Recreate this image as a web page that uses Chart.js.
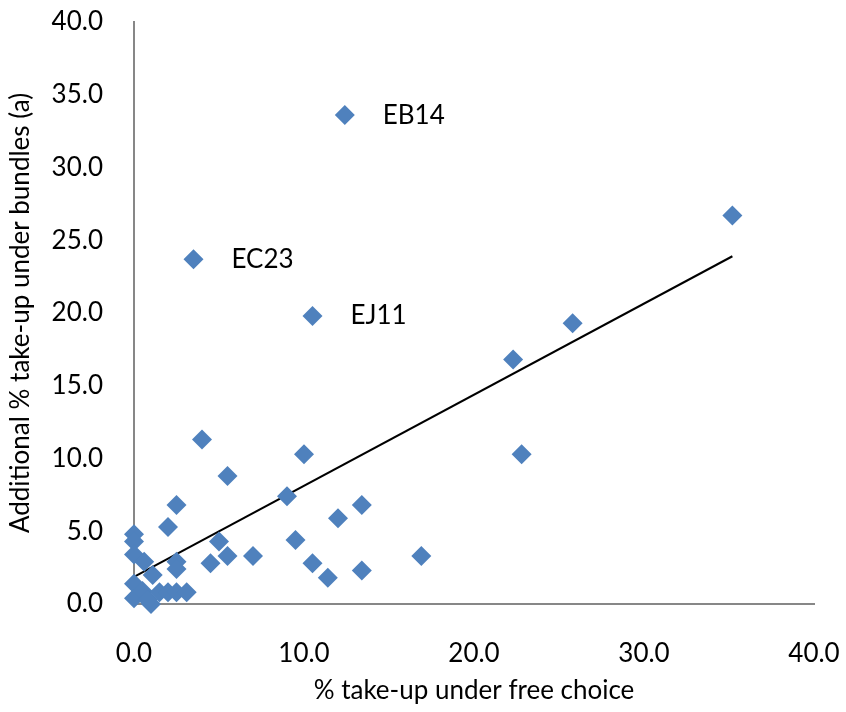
<!DOCTYPE html>
<html>
<head>
<meta charset="utf-8">
<script src="https://cdn.jsdelivr.net/npm/chart.js@4"></script>
<style>
  html, body { margin: 0; padding: 0; background: #fff; }
  #wrap { width: 846px; height: 712px; }
</style>
</head>
<body>
<div id="wrap"><canvas id="chart" width="846" height="712"></canvas></div>
<script>
// valores
const freeChoice = [12.4, 35.2, 3.5, 10.5, 25.8, 22.3, 22.8, 4.0, 10.0, 5.5,
                    9.0, 2.5, 13.4, 12.0, 2.0, 9.5, 5.0, 5.5, 7.0, 16.9,
                    4.5, 10.5, 13.4, 11.4, 2.5, 2.5, 0.0, 0.0, 0.0, 0.6,
                    1.1, 0.0, 0.0, 0.5, 1.0, 1.5, 2.0, 2.5, 3.1, 0.8];
const bundles    = [33.6, 26.7, 23.7, 19.8, 19.3, 16.8, 10.3, 11.3, 10.3, 8.8,
                    7.4, 6.8, 6.8, 5.9, 5.3, 4.4, 4.3, 3.3, 3.3, 3.3,
                    2.8, 2.8, 2.3, 1.8, 2.9, 2.4, 4.8, 4.3, 3.4, 2.9,
                    2.0, 1.4, 0.4, 0.9, 0.0, 0.8, 0.8, 0.8, 0.8, 0.3];
const pointLabels = ['EB14', '', 'EC23', 'EJ11'];

// linha de tendência (extremos)
const trendX = [0, 35.2];
const trendY = [1.86, 23.9];

const xTicks = [0, 10, 20, 30, 40];
const yTicks = [0, 5, 10, 15, 20, 25, 30, 35, 40];

const FONT = 'Lato, "Open Sans", sans-serif';

const scatterData = freeChoice.map((x, i) => ({ x: x, y: bundles[i] }));
const trendData = trendX.map((x, i) => ({ x: x, y: trendY[i] }));

// desenha os rótulos ao lado dos pontos
const labelPlugin = {
  id: 'pointLabels',
  afterDatasetsDraw(chart) {
    const ctx = chart.ctx;
    const meta = chart.getDatasetMeta(0);
    ctx.save();
    ctx.font = '26px ' + FONT;
    ctx.fillStyle = '#000';
    ctx.textBaseline = 'middle';
    ctx.textAlign = 'left';
    pointLabels.forEach((txt, i) => {
      if (!txt) return;
      const p = meta.data[i];
      ctx.fillText(txt, p.x + 38, p.y);
    });
    ctx.restore();
  }
};

const axisColor = '#878787';

new Chart(document.getElementById('chart').getContext('2d'), {
  type: 'scatter',
  data: {
    datasets: [
      {
        label: 'Pontos',
        data: scatterData,
        pointStyle: 'rectRot',
        pointRadius: 10,
        pointHoverRadius: 10,
        backgroundColor: '#4F81BD',
        borderColor: '#4F81BD',
        borderWidth: 0,
        clip: false,
        order: 1
      },
      {
        type: 'line',
        label: 'Tendência',
        data: trendData,
        borderColor: '#000',
        borderWidth: 2,
        pointRadius: 0,
        fill: false,
        tension: 0,
        order: 2
      }
    ]
  },
  options: {
    responsive: false,
    animation: false,
    devicePixelRatio: 1,
    layout: { padding: { top: 22, right: 32, left: 0, bottom: 0 } },
    plugins: {
      legend: { display: false },
      tooltip: { enabled: false }
    },
    scales: {
      x: {
        type: 'linear',
        min: 0, max: 40,
        afterFit(scale) {
          scale.height = 108;
          scale.paddingLeft = 0;
          scale.paddingRight = 0;
        },
        afterBuildTicks(scale) { scale.ticks = xTicks.map(v => ({ value: v })); },
        grid: { display: false, drawOnChartArea: false, drawTicks: true, tickLength: 9, tickColor: axisColor },
        border: { display: true, color: axisColor, width: 2 },
        ticks: {
          color: '#000',
          padding: 25,
          maxRotation: 0,
          font: { family: FONT, size: 26 },
          callback: v => v.toFixed(1)
        },
        title: {
          display: true,
          text: '% take-up under free choice',
          color: '#000',
          font: { family: FONT, size: 26 },
          padding: { top: 0, bottom: 6 }
        }
      },
      y: {
        type: 'linear',
        min: 0, max: 40,
        afterFit(scale) {
          scale.width = 134;
          scale.paddingTop = 0;
          scale.paddingBottom = 0;
        },
        afterBuildTicks(scale) { scale.ticks = yTicks.map(v => ({ value: v })); },
        grid: { display: false, drawOnChartArea: false, drawTicks: true, tickLength: 9, tickColor: axisColor },
        border: { display: true, color: axisColor, width: 2 },
        ticks: {
          color: '#000',
          padding: 22,
          font: { family: FONT, size: 26 },
          callback: v => v.toFixed(1)
        },
        title: {
          display: true,
          text: 'Additional % take-up under bundles (a)',
          color: '#000',
          font: { family: FONT, size: 26 },
          padding: { top: 5, bottom: 0 }
        }
      }
    }
  },
  plugins: [labelPlugin]
});
</script>
</body>
</html>
